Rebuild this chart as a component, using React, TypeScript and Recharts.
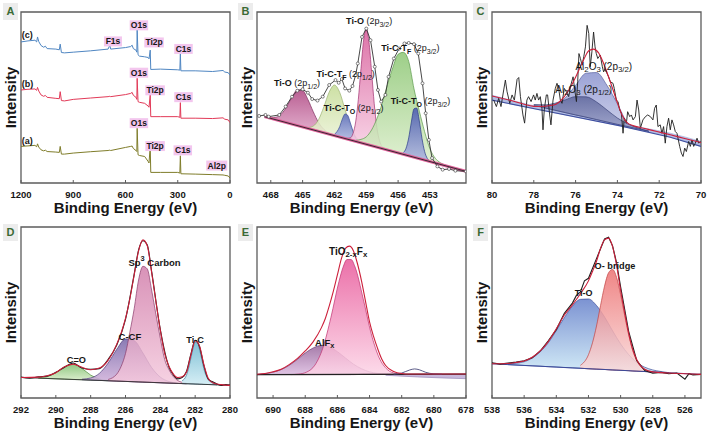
import React from "react";
import { ComposedChart, Area, Line, XAxis, YAxis, ReferenceArea, ReferenceDot } from "recharts";

const FONT = "'Liberation Sans', Arial, Helvetica, sans-serif";
const INK = "#161616";
const FRAME = "#5c5c5c";
const FIT = "#cc1f3a";

type Pt = [number, number];
type Tri = [number, number, number]; // [binding energy, background, peak top]

// ---------- A: survey spectra ----------
const surveyBE = [1200, 1160, 1120, 1110, 1105, 1098, 1085, 1070, 1060, 1050, 1000, 980, 975, 968, 950, 900, 800, 700, 690, 685, 600, 570, 562, 555, 540, 535, 533, 528, 520, 490, 470, 465, 458, 455, 400, 300, 288, 285, 282, 200, 100, 40, 30, 10, 0];
const surveyC = [82.5, 83.1, 83.5, 82.5, 85.4, 82.7, 80.4, 79.4, 80.0, 78.6, 78.3, 77.9, 81.2, 76.3, 76.1, 76.5, 77.3, 78.3, 80.6, 78.3, 79.2, 79.8, 80.6, 78.6, 77.7, 76.5, 89.7, 75.0, 74.2, 73.8, 73.4, 72.6, 77.7, 66.4, 66.6, 66.2, 66.0, 75.7, 65.6, 65.6, 65.2, 65.8, 64.9, 64.5, 63.1];
const surveyB = [54.4, 54.8, 55.0, 54.2, 55.9, 53.8, 51.5, 50.7, 51.2, 50.1, 49.5, 49.3, 53.4, 48.2, 48.0, 48.9, 49.7, 50.5, 50.7, 50.5, 51.7, 52.4, 53.0, 51.3, 50.1, 48.9, 61.2, 47.6, 47.2, 46.6, 45.0, 44.3, 51.5, 38.8, 38.8, 38.8, 38.4, 47.0, 37.9, 37.9, 37.7, 38.1, 37.3, 36.9, 35.3];
const surveyA = [21.4, 21.7, 22.0, 21.2, 22.9, 21.0, 19.4, 18.8, 19.2, 18.4, 18.1, 17.9, 21.4, 16.9, 16.9, 17.5, 18.3, 19.0, 19.2, 19.0, 20.8, 21.4, 21.6, 20.2, 19.0, 18.4, 32.0, 16.5, 16.1, 15.5, 12.6, 11.7, 21.4, 6.2, 6.2, 6.2, 5.8, 15.9, 5.4, 5.2, 4.9, 4.7, 4.5, 4.1, 2.9];
const surveyTicks = [1200, 900, 600, 300, 0];

// ---------- B: Ti 2p ----------
const tiTicks = [468, 465, 462, 459, 456, 453];
const tiO12: Tri[] = [[468.0, 37.8, 38.2], [467.5, 37.0, 38.5], [467.0, 36.1, 40.4], [466.5, 35.3, 44.6], [466.0, 34.4, 50.2], [465.5, 33.6, 54.4], [465.0, 32.8, 54.1], [464.5, 31.9, 48.8], [464.0, 31.1, 41.7], [463.5, 30.2, 35.4], [463.0, 29.4, 31.4], [462.5, 28.5, 29.1], [462.0, 27.7, 27.8]];
const tiTF12: Tri[] = [[464.5, 31.9, 32.4], [464.0, 31.1, 33.3], [463.5, 30.2, 37.0], [463.0, 29.4, 44.5], [462.5, 28.5, 53.1], [462.0, 27.7, 57.3], [461.5, 26.9, 52.9], [461.0, 26.0, 42.9], [460.5, 25.2, 33.2], [460.0, 24.3, 27.1], [459.5, 23.5, 24.2], [459.0, 22.6, 22.6]];
const tiTO12: Tri[] = [[462.0, 27.7, 28.4], [461.5, 26.9, 33.0], [461.25, 26.5, 37.5], [461.0, 26.0, 40.4], [460.75, 25.6, 39.6], [460.5, 25.2, 35.1], [460.0, 24.3, 26.3], [459.5, 23.5, 23.6]];
const tiO32: Tri[] = [[461.0, 26.0, 26.0], [460.5, 25.2, 26.4], [460.25, 24.8, 29.0], [460.0, 24.3, 35.7], [459.75, 23.9, 48.8], [459.5, 23.5, 66.9], [459.25, 23.0, 83.6], [459.0, 22.6, 90.3], [458.75, 22.2, 82.8], [458.5, 21.8, 65.2], [458.25, 21.4, 46.3], [458.0, 21.0, 32.4], [457.75, 20.5, 24.7], [457.5, 20.1, 21.3], [457.0, 19.3, 19.3]];
const tiTF32: Tri[] = [[460.0, 24.3, 25.0], [459.5, 23.5, 25.5], [459.0, 22.6, 27.0], [458.5, 21.8, 31.0], [458.0, 21.0, 37.6], [457.5, 20.1, 46.6], [457.0, 19.3, 57.6], [456.5, 18.4, 67.4], [456.0, 17.6, 75.3], [455.5, 16.7, 76.4], [455.0, 15.9, 71.1], [454.5, 15.1, 55.0], [454.0, 14.2, 42.0], [453.5, 13.4, 30.0], [453.0, 12.5, 20.0], [452.5, 11.7, 14.5], [452.0, 10.8, 11.8], [451.5, 10.0, 10.3], [451.0, 9.2, 9.2]];
const tiTO32: Tri[] = [[455.5, 16.7, 17.8], [455.25, 16.3, 20.3], [455.0, 15.9, 26.4], [454.75, 15.5, 35.7], [454.5, 15.1, 43.4], [454.25, 14.6, 43.8], [454.0, 14.2, 36.3], [453.75, 13.8, 26.1], [453.5, 13.4, 18.4], [453.25, 12.9, 14.4], [453.0, 12.5, 12.8]];
const tiBackground: Pt[] = [[468.6, 38.8], [449.6, 6.8]];
const tiData: Pt[] = [[469.1, 39.2], [468.5, 39.8], [468.2, 38.8], [467.2, 39.8], [466.6, 44.7], [466.0, 50.5], [465.5, 54.0], [465.0, 54.8], [464.5, 52.8], [464.1, 49.1], [463.6, 48.2], [463.1, 50.5], [462.5, 57.3], [461.9, 60.2], [461.6, 58.6], [461.3, 60.8], [461.0, 55.3], [460.6, 54.0], [460.3, 56.7], [460.0, 63.1], [459.8, 69.9], [459.4, 85.4], [459.0, 90.3], [458.6, 83.5], [458.2, 68.0], [457.9, 54.4], [457.6, 47.6], [457.2, 51.5], [456.9, 62.1], [456.4, 72.8], [455.9, 78.6], [455.4, 81.6], [455.0, 81.9], [454.5, 81.2], [454.1, 75.7], [453.7, 58.3], [453.4, 40.8], [453.1, 25.2], [452.8, 14.6], [452.3, 9.7], [451.8, 7.8], [451.2, 8.2], [450.6, 7.2], [449.6, 6.8]];

// ---------- C: Al 2p ----------
const alTicks = [80, 78, 76, 74, 72, 70];
const alBand: Tri[] = [[80.0, 48.5, 51.3], [77.85, 43.1, 44.7], [73.86, 33.4, 34.6], [71.47, 26.8, 29.1], [70.0, 21.4, 24.3]];
const al32: Tri[] = [[77.5, 44.0, 44.8], [77.0, 42.6, 45.6], [76.5, 41.2, 49.7], [76.0, 39.8, 57.1], [75.5, 38.5, 64.2], [75.0, 37.1, 64.6], [74.5, 35.7, 57.1], [74.0, 34.3, 46.3], [73.5, 33.0, 35.0], [73.0, 31.6, 32.0], [72.5, 30.2, 30.5]];
const al12: Tri[] = [[78.0, 45.4, 45.9], [77.5, 44.0, 45.7], [77.0, 42.6, 46.6], [76.5, 41.2, 48.6], [76.0, 39.8, 50.5], [75.5, 38.5, 50.4], [75.0, 37.1, 47.4], [74.5, 35.7, 42.7], [74.0, 34.3, 38.0], [73.5, 33.0, 34.5], [73.0, 31.6, 32.1], [72.5, 30.2, 30.2]];
const alLower: Pt[] = [[80.0, 48.5], [77.85, 43.1], [73.86, 33.4], [71.47, 26.8], [70.0, 21.4]];
const alFit: Pt[] = [[80.0, 50.9], [79.0, 48.0], [77.85, 44.7], [77.05, 45.6], [76.57, 50.1], [76.25, 55.9], [75.93, 63.7], [75.61, 72.2], [75.37, 77.3], [75.14, 78.3], [74.9, 76.1], [74.66, 69.9], [74.34, 59.2], [74.02, 47.6], [73.78, 39.8], [73.54, 35.3], [73.22, 33.4], [72.74, 32.0], [72.11, 30.1], [71.47, 28.2], [70.83, 26.2], [70.0, 23.7]];
const alData: Pt[] = [[79.92, 48.5], [79.79, 44.7], [79.68, 49.5], [79.57, 44.7], [79.44, 54.4], [79.36, 60.2], [79.28, 53.4], [79.15, 46.6], [79.04, 51.5], [78.93, 48.5], [78.8, 60.6], [78.72, 61.7], [78.64, 50.5], [78.52, 39.8], [78.44, 35.0], [78.33, 48.5], [78.25, 50.5], [78.13, 47.6], [78.01, 51.5], [77.93, 48.5], [77.85, 52.4], [77.77, 48.5], [77.69, 50.5], [77.61, 43.7], [77.56, 31.1], [77.5, 42.7], [77.4, 51.5], [77.34, 51.5], [77.24, 39.8], [77.18, 34.0], [77.08, 48.5], [76.97, 55.3], [76.89, 58.3], [76.81, 55.3], [76.73, 48.5], [76.65, 46.6], [76.54, 55.3], [76.44, 53.4], [76.33, 50.5], [76.25, 56.3], [76.12, 62.1], [76.04, 54.4], [75.96, 47.6], [75.9, 59.2], [75.84, 75.7], [75.77, 72.8], [75.69, 68.9], [75.61, 73.8], [75.53, 79.6], [75.45, 92.2], [75.37, 87.4], [75.3, 68.0], [75.22, 76.7], [75.14, 88.3], [75.07, 79.6], [75.01, 75.7], [74.94, 72.8], [74.82, 74.8], [74.72, 68.0], [74.66, 65.0], [74.58, 67.0], [74.5, 64.1], [74.42, 62.1], [74.34, 59.2], [74.21, 58.3], [74.15, 55.3], [74.05, 48.5], [73.97, 47.6], [73.89, 42.7], [73.81, 40.8], [73.73, 29.1], [73.67, 37.9], [73.57, 35.0], [73.51, 41.7], [73.41, 38.8], [73.33, 39.8], [73.25, 36.9], [73.14, 38.8], [73.06, 48.5], [72.98, 42.7], [72.9, 32.0], [72.78, 36.9], [72.66, 38.8], [72.55, 39.8], [72.42, 38.8], [72.3, 36.9], [72.22, 43.7], [72.14, 45.6], [72.06, 33.0], [71.95, 34.0], [71.87, 29.1], [71.79, 33.0], [71.71, 23.3], [71.63, 33.0], [71.55, 37.9], [71.47, 31.1], [71.39, 36.9], [71.31, 34.0], [71.23, 30.1], [71.15, 29.1], [71.02, 21.4], [70.94, 17.5], [70.86, 15.5], [70.78, 20.4], [70.7, 18.4], [70.59, 24.3], [70.51, 21.4], [70.43, 25.2], [70.35, 21.4], [70.27, 23.3], [70.19, 26.2], [70.11, 23.3], [70.03, 24.3]];

// ---------- D: C 1s ----------
const cTicks = [292, 290, 288, 286, 284, 282, 280];
const cCO: Tri[] = [[291.0, 11.6, 11.8], [290.5, 11.4, 12.5], [290.0, 11.2, 14.8], [289.5, 11.0, 18.3], [289.0, 10.8, 19.8], [288.5, 10.7, 17.3], [288.0, 10.5, 13.4], [287.5, 10.3, 11.1], [287.0, 10.1, 10.2]];
const cCCF: Tri[] = [[288.5, 10.7, 11.0], [288.0, 10.5, 11.7], [287.5, 10.3, 14.4], [287.0, 10.1, 20.4], [286.5, 9.9, 28.5], [286.0, 9.7, 34.5], [285.5, 9.5, 33.5], [285.0, 9.3, 26.3], [284.5, 9.1, 17.8], [284.0, 8.9, 12.2], [283.5, 8.7, 9.6], [283.0, 8.5, 8.7]];
const cSp3: Tri[] = [[287.0, 10.1, 10.8], [286.5, 9.9, 14.0], [286.25, 9.8, 18.5], [286.0, 9.7, 26.0], [285.75, 9.6, 38.5], [285.5, 9.5, 52.3], [285.25, 9.4, 69.0], [285.0, 9.3, 77.0], [284.75, 9.2, 75.5], [284.5, 9.1, 63.1], [284.25, 9.0, 48.7], [284.0, 8.9, 34.9], [283.75, 8.8, 22.5], [283.5, 8.7, 16.5], [283.25, 8.6, 12.5], [283.0, 8.5, 10.2], [282.5, 8.3, 8.7]];
const cTiC: Tri[] = [[282.75, 8.4, 10.1], [282.5, 8.3, 13.3], [282.375, 8.3, 17.5], [282.25, 8.2, 23.1], [282.125, 8.2, 28.9], [282.0, 8.1, 32.8], [281.875, 8.1, 32.6], [281.75, 8.0, 28.4], [281.625, 8.0, 22.9], [281.5, 7.9, 17.1], [281.25, 7.9, 10.9], [281.0, 7.8, 8.8], [280.75, 7.7, 7.7]];
const cBackground: Pt[] = [[292, 12.0], [280, 7.4]];
const cFit: Pt[] = [[292, 12.0], [291, 12.2], [290.5, 13.0], [290, 14.8], [289.5, 18.3], [289, 19.8], [288.5, 18.0], [288, 16.5], [287.5, 17.5], [287, 22.0], [286.5, 31.5], [286.25, 38.0], [286, 46.5], [285.75, 58.0], [285.5, 72.0], [285.25, 86.0], [285, 92.5], [284.75, 89.0], [284.5, 73.5], [284.25, 56.0], [284, 39.5], [283.75, 26.0], [283.5, 18.4], [283.25, 14.0], [283, 12.0], [282.75, 12.4], [282.5, 15.0], [282.25, 25.0], [282, 33.5], [281.75, 30.5], [281.5, 19.5], [281.25, 11.5], [281, 8.9], [280.5, 7.8], [280, 7.4]];
const cData: Pt[] = [[292, 12.2], [291.5, 11.6], [291, 12.4], [290.5, 12.8], [290, 15.0], [289.5, 18.0], [289, 20.5], [288.5, 17.5], [288, 16.8], [287.5, 17.2], [287, 22.5], [286.5, 31.0], [286, 46.0], [285.5, 72.5], [285.25, 86.5], [285, 92.0], [284.75, 89.5], [284.5, 74.0], [284, 40.0], [283.5, 18.0], [283.25, 13.5], [283, 11.2], [282.75, 12.0], [282.5, 15.5], [282.25, 25.5], [282, 33.8], [281.75, 30.0], [281.5, 19.0], [281.25, 11.0], [281, 9.5], [280.75, 8.2], [280.5, 7.3], [280.25, 7.9], [280, 7.5]];

// ---------- E: F 1s ----------
const fTicks = [690, 688, 686, 684, 682, 680, 678];
const fBand: Tri[] = [[683.0, 13.3, 13.8], [681.0, 12.3, 13.9], [678.0, 11.3, 14.0]];
const fAlF: Tri[] = [[691.0, 13.7, 13.9], [690.5, 13.7, 14.2], [690.0, 13.7, 15.1], [689.5, 13.7, 16.6], [689.0, 13.7, 19.1], [688.5, 13.7, 22.5], [688.0, 13.7, 26.3], [687.5, 13.7, 29.3], [687.0, 13.7, 30.7], [686.5, 13.7, 29.8], [686.0, 13.7, 27.1], [685.5, 13.7, 23.4], [685.0, 13.7, 19.8], [684.5, 13.8, 17.1], [684.0, 13.8, 15.3], [683.5, 13.8, 14.4], [683.0, 13.8, 14.0], [682.5, 13.8, 13.8]];
const fTiOF: Tri[] = [[688.9, 13.7, 13.7], [688.4, 13.7, 14.0], [687.9, 13.7, 15.2], [687.4, 13.7, 19.2], [686.9, 13.7, 29.3], [686.4, 13.7, 47.2], [685.9, 13.7, 68.2], [685.65, 13.7, 76.4], [685.4, 13.7, 81.0], [685.15, 13.7, 81.0], [684.9, 13.7, 76.6], [684.4, 13.8, 58.3], [683.9, 13.8, 37.7], [683.4, 13.8, 23.5], [682.9, 13.8, 16.7], [682.4, 13.8, 14.4], [681.9, 13.8, 13.8]];
const fBackground: Pt[] = [[691, 13.7], [678, 14.0]];
const fBump: Pt[] = [[682.5, 13.9], [682.0, 14.6], [681.5, 16.4], [681.2, 17.0], [680.9, 16.5], [680.5, 15.0], [680.0, 14.1], [679.5, 13.9]];
const fFit: Pt[] = [[691, 13.9], [690.5, 14.3], [690, 15.3], [689.5, 16.8], [689, 19.5], [688.5, 23.0], [688, 27.5], [687.5, 33.0], [687, 41.0], [686.75, 46.5], [686.5, 54.0], [686.25, 62.5], [686, 72.0], [685.75, 81.5], [685.5, 87.5], [685.25, 88.8], [685, 86.0], [684.75, 78.5], [684.5, 68.5], [684.25, 56.5], [684, 44.5], [683.75, 36.0], [683.5, 29.0], [683.25, 23.0], [683, 19.0], [682.5, 15.5], [682, 14.3], [681.5, 14.0], [680, 14.0], [678, 14.0]];

// ---------- F: O 1s ----------
const oTicks = [538, 536, 534, 532, 530, 528, 526];
const oTiO: Tri[] = [[537.0, 19.5, 19.9], [536.0, 19.0, 21.2], [535.5, 18.8, 23.3], [535.0, 18.6, 27.0], [534.5, 18.3, 32.3], [534.0, 18.1, 39.4], [533.5, 17.8, 47.0], [533.0, 17.6, 53.7], [532.5, 17.4, 57.7], [532.0, 17.1, 57.9], [531.5, 16.9, 54.1], [531.0, 16.7, 47.4], [530.5, 16.4, 39.3], [530.0, 16.2, 31.6], [529.5, 16.0, 25.4], [529.0, 15.7, 20.8], [528.5, 15.5, 18.0], [528.0, 15.2, 16.4], [527.5, 15.0, 15.5], [527.0, 14.8, 14.8]];
const oBridge: Tri[] = [[532.5, 17.4, 19.1], [532.0, 17.1, 25.3], [531.75, 17.0, 32.3], [531.5, 16.9, 42.1], [531.25, 16.8, 54.0], [531.0, 16.7, 65.4], [530.75, 16.5, 73.2], [530.5, 16.4, 75.2], [530.25, 16.3, 70.5], [530.0, 16.2, 60.5], [529.75, 16.1, 48.4], [529.5, 16.0, 37.0], [529.25, 15.8, 27.9], [529.0, 15.7, 21.9], [528.75, 15.6, 18.4], [528.5, 15.5, 16.6], [528.0, 15.2, 15.2]];
const oBackground: Pt[] = [[538, 20.0], [525, 13.8]];
const oFit: Pt[] = [[538, 20.0], [537, 20.2], [536.5, 20.8], [536, 21.6], [535.5, 23.8], [535, 27.5], [534.5, 33.0], [534, 40.5], [533.5, 48.5], [533, 54.5], [532.5, 61.0], [532, 68.5], [531.75, 74.0], [531.5, 80.0], [531.25, 87.5], [531, 92.5], [530.75, 93.5], [530.5, 88.5], [530.25, 77.5], [530, 63.0], [529.75, 50.0], [529.5, 38.0], [529.25, 28.5], [529, 22.5], [528.75, 18.8], [528.5, 16.8], [528, 15.3], [527, 14.6], [526, 14.2], [525, 13.8]];
const oData: Pt[] = [[538, 20.6], [537.5, 19.8], [537, 20.4], [536.5, 21.0], [536, 21.8], [535.5, 23.5], [535, 27.5], [534.5, 33.5], [534, 40.0], [533.5, 49.5], [533, 55.5], [532.75, 60.0], [532.5, 62.0], [532.25, 68.5], [532, 70.0], [531.5, 81.5], [531, 93.0], [530.75, 94.0], [530.5, 89.0], [530.25, 79.0], [530, 65.0], [529.5, 39.0], [529, 22.0], [528.5, 16.0], [528, 14.5], [527.5, 15.0], [527, 14.2], [526.5, 14.6], [526, 11.0], [525.75, 14.2], [525.5, 13.5], [525, 13.8]];

type Seg = { t: string; s?: "sub" | "sup"; n?: boolean };
type Tag = { x: number; y: number; segs: Seg[]; size: number; box?: number };
type Peak = { id: string; pts: Tri[]; c0: string; c1: string; line: string; op?: number };
type Trace = { pts: Pt[]; color: string; w: number; dots?: boolean; curve?: "linear" | "monotone" };

const rng = (p: Tri[]) => p.map(([x, lo, hi]) => ({ x, y: [lo, hi] }));
const pts = (p: Pt[]) => p.map(([x, y]) => ({ x, y }));
const zip = (ys: number[]): Pt[] => surveyBE.map((x, i) => [x, ys[i]]);

const txt = (t: string): Seg[] => [{ t }];
const orbital = (main: Seg[], j: string): Seg[] => [...main, { t: " (2p", n: true }, { t: j, s: "sub", n: true }, { t: ")", n: true }];

function spans(segs: Seg[], size: number) {
  let prev = 0;
  return segs.map((g, i) => {
    const shift = g.s === "sub" ? size * 0.3 : g.s === "sup" ? -size * 0.4 : 0;
    const dy = shift - prev;
    prev = shift;
    return (
      <tspan key={i} dy={dy} fontSize={g.s ? size * 0.78 : size} fontWeight={g.n ? 400 : 700}>
        {g.t}
      </tspan>
    );
  });
}

const tagShape = (tag: Tag) => (p: any) => (
  <g>
    {tag.box ? <rect x={p.cx - tag.box / 2} y={p.cy - 5} width={tag.box} height={10} fill="#f3c6ee" /> : null}
    <text
      x={p.cx}
      y={p.cy}
      dominantBaseline="central"
      textAnchor={tag.box ? "middle" : "start"}
      fontFamily={FONT}
      fill={INK}
      style={{ whiteSpace: "pre" }}
    >
      {spans(tag.segs, tag.size)}
    </text>
  </g>
);

interface PanelProps {
  left: number;
  top: number;
  low?: boolean;
  domain: [number, number];
  ticks: number[];
  peaks: Peak[];
  traces: Trace[];
  tags: Tag[];
}

const Panel: React.FC<PanelProps> = ({ left, top, low, domain, ticks, peaks, traces, tags }) => {
  const axisText = { fontSize: 15, fontWeight: 700, fill: INK, fontFamily: FONT };
  return (
    <div style={{ position: "absolute", left, top }}>
      <ComposedChart width={235} height={low ? 218 : 215} margin={{ top: 12, right: 5, bottom: 0, left: 0 }}>
        <defs>
          {peaks.map((pk) => (
            <linearGradient key={pk.id} id={pk.id} x1="0" y1="0" x2="0" y2="1">
              <stop offset="0%" stopColor={pk.c0} stopOpacity={pk.op ?? 0.88} />
              <stop offset="100%" stopColor={pk.c1} stopOpacity={pk.op ?? 0.88} />
            </linearGradient>
          ))}
        </defs>
        <XAxis
          type="number"
          dataKey="x"
          domain={domain}
          reversed
          allowDataOverflow
          ticks={ticks}
          interval={0}
          height={low ? 35 : 32}
          axisLine={false}
          tickLine={{ stroke: FRAME }}
          tickSize={-3}
          tickMargin={11}
          tick={{ fontSize: 9.5, fontWeight: 700, fill: INK, fontFamily: FONT }}
          label={{ value: "Binding Energy (eV)", position: "insideBottom", offset: low ? 5 : 2, ...axisText }}
        />
        <YAxis
          type="number"
          domain={[0, 100]}
          allowDataOverflow
          width={21}
          tick={false}
          tickLine={false}
          axisLine={false}
          label={{ value: "Intensity", angle: -90, position: "center", ...axisText }}
        />
        {peaks.map((pk) => (
          <Area
            key={pk.id}
            name={pk.id}
            data={rng(pk.pts)}
            dataKey="y"
            type="monotone"
            fill={`url(#${pk.id})`}
            fillOpacity={1}
            stroke={pk.line}
            strokeWidth={0.7}
            dot={false}
            activeDot={false}
            isAnimationActive={false}
          />
        ))}
        {traces.map((tr, i) => (
          <Line
            key={i}
            name={`trace${i}`}
            data={pts(tr.pts)}
            dataKey="y"
            type={tr.curve ?? "linear"}
            stroke={tr.color}
            strokeWidth={tr.w}
            dot={tr.dots ? { r: 1.5, fill: "#fff", stroke: "#333", strokeWidth: 0.6 } : false}
            activeDot={false}
            isAnimationActive={false}
          />
        ))}
        <ReferenceArea x1={domain[0]} x2={domain[1]} y1={0} y2={100} fill="none" stroke={FRAME} strokeWidth={1.3} ifOverflow="visible" />
        {tags.map((t, i) => (
          <ReferenceDot key={i} x={t.x} y={t.y} r={0} ifOverflow="visible" shape={tagShape(t)} />
        ))}
      </ComposedChart>
    </div>
  );
};

const letters: [string, number, number][] = [
  ["A", 3, 3],
  ["B", 238, 3],
  ["C", 473, 3],
  ["D", 3, 224],
  ["E", 238, 224],
  ["F", 473, 224],
];

export default function App() {
  const box = (t: string, x: number, y: number, w: number): Tag => ({ x, y, segs: txt(t), size: 8.5, box: w });
  const TiCTF: Seg[] = [{ t: "Ti-C-T" }, { t: "F", s: "sub" }];
  const TiCTO: Seg[] = [{ t: "Ti-C-T" }, { t: "O", s: "sub" }];
  const Al2O3: Seg[] = [{ t: "Al", n: true }, { t: "2", s: "sub", n: true }, { t: "O", n: true }, { t: "3", s: "sub", n: true }];

  return (
    <div style={{ position: "absolute", left: 0, top: 0, width: 709, height: 433, background: "#fff", overflow: "hidden", fontFamily: FONT }}>
      <style>{`.recharts-surface{overflow:visible}`}</style>

      <Panel
        left={0}
        top={0}
        domain={[0, 1200]}
        ticks={surveyTicks}
        peaks={[]}
        traces={[
          { pts: zip(surveyC), color: "#4f86c2", w: 1 },
          { pts: zip(surveyB), color: "#e23a58", w: 1 },
          { pts: zip(surveyA), color: "#7f7d2a", w: 1 },
        ]}
        tags={[
          { x: 1195, y: 86.4, segs: txt("(c)"), size: 9 },
          { x: 1195, y: 58.0, segs: txt("(b)"), size: 9 },
          { x: 1195, y: 24.8, segs: txt("(a)"), size: 9 },
          box("F1s", 672, 82.8, 18),
          box("O1s", 523, 92.2, 18.5),
          box("Ti2p", 436, 82.2, 19.5),
          box("C1s", 267, 78.4, 18.5),
          box("O1s", 523, 64.5, 18.5),
          box("Ti2p", 430, 54.2, 19.5),
          box("C1s", 267, 50.2, 18.5),
          box("O1s", 523, 35.0, 18.5),
          box("Ti2p", 430, 21.6, 19.5),
          box("C1s", 271, 19.1, 18.5),
          box("Al2p", 76, 10.2, 21),
        ]}
      />

      <Panel
        left={236}
        top={0}
        domain={[449.6, 469.3]}
        ticks={tiTicks}
        peaks={[
          { id: "bTiO12", pts: tiO12, c0: "#b04a84", c1: "#e2aacb", line: "#7a2a5a" },
          { id: "bTF12", pts: tiTF12, c0: "#c6dc98", c1: "#eef4dc", line: "#9ab070" },
          { id: "bTO12", pts: tiTO12, c0: "#5c6cbc", c1: "#b8c0e8", line: "#3a4a9a" },
          { id: "bTiO32", pts: tiO32, c0: "#d8609c", c1: "#f8d0e4", line: "#a03070" },
          { id: "bTF32", pts: tiTF32, c0: "#90c878", c1: "#e0f0d0", line: "#5a9a4a" },
          { id: "bTO32", pts: tiTO32, c0: "#4a5ab0", c1: "#b0b8e0", line: "#2a3a8a" },
        ]}
        traces={[
          { pts: tiBackground, color: "#e0609a", w: 3 },
          { pts: tiBackground, color: "#222", w: 0.9 },
          { pts: tiData, color: "#333", w: 0.9, dots: true },
        ]}
        tags={[
          { x: 460.9, y: 94.6, segs: orbital(txt("Ti-O"), "3/2"), size: 9 },
          { x: 457.6, y: 78.8, segs: orbital(TiCTF, "3/2"), size: 9 },
          { x: 467.7, y: 58.4, segs: orbital(txt("Ti-O"), "1/2"), size: 9 },
          { x: 463.7, y: 63.7, segs: orbital(TiCTF, "1/2"), size: 9 },
          { x: 463.0, y: 43.9, segs: orbital(TiCTO, "1/2"), size: 9 },
          { x: 456.7, y: 47.9, segs: orbital(TiCTO, "3/2"), size: 9 },
        ]}
      />

      <Panel
        left={471}
        top={0}
        domain={[70, 80]}
        ticks={alTicks}
        peaks={[
          { id: "cBand", pts: alBand, c0: "#a8b4e0", c1: "#a8b4e0", line: "#a8b4e0" },
          { id: "c32", pts: al32, c0: "#8e96d0", c1: "#c8cce8", line: "#5a62a0" },
          { id: "c12", pts: al12, c0: "#5a6298", c1: "#9aa0c8", line: "#3a4278", op: 0.8 },
        ]}
        traces={[
          { pts: alLower, color: "#3f4f9f", w: 1.1 },
          { pts: alData, color: "#1e1e1e", w: 0.9 },
          { pts: alFit, color: FIT, w: 1.1, curve: "monotone" },
        ]}
        tags={[
          { x: 76.01, y: 68.4, segs: orbital(Al2O3, "3/2"), size: 10 },
          { x: 76.97, y: 55.0, segs: orbital(Al2O3, "1/2"), size: 10 },
        ]}
      />

      <Panel
        left={0}
        top={215}
        low
        domain={[280, 292]}
        ticks={cTicks}
        peaks={[
          { id: "dCO", pts: cCO, c0: "#80c070", c1: "#d8ecc8", line: "#4a8a3a" },
          { id: "dCCF", pts: cCCF, c0: "#7a6aaa", c1: "#d4b4dc", line: "#4a3a7a" },
          { id: "dSp3", pts: cSp3, c0: "#d07aa8", c1: "#f4c8dc", line: "#8a3a6a", op: 0.82 },
          { id: "dTiC", pts: cTiC, c0: "#70b8d0", c1: "#d0ecf4", line: "#3a7a9a" },
        ]}
        traces={[
          { pts: cBackground, color: "#333", w: 0.9 },
          { pts: cData, color: "#1e1e1e", w: 1.1, curve: "monotone" },
          { pts: cFit, color: FIT, w: 1.1, curve: "monotone" },
        ]}
        tags={[
          { x: 285.83, y: 79.4, segs: [{ t: "Sp" }, { t: "3", s: "sup" }, { t: " Carbon" }], size: 9.5 },
          { x: 286.4, y: 36.3, segs: txt("C-CF"), size: 9.5 },
          { x: 289.37, y: 22.3, segs: txt("C=O"), size: 9.2 },
          { x: 282.51, y: 34.0, segs: txt("Ti-C"), size: 9.2 },
        ]}
      />

      <Panel
        left={236}
        top={215}
        low
        domain={[678, 691]}
        ticks={fTicks}
        peaks={[
          { id: "eBand", pts: fBand, c0: "#c0b0d8", c1: "#c0b0d8", line: "#9a8ab8" },
          { id: "eAlF", pts: fAlF, c0: "#9a6a9e", c1: "#dcbce0", line: "#6a3a6e" },
          { id: "eTiOF", pts: fTiOF, c0: "#e8589a", c1: "#fcd4e6", line: "#c03070", op: 0.85 },
        ]}
        traces={[
          { pts: fBackground, color: "#222", w: 1.3 },
          { pts: fBump, color: "#4a4a7a", w: 0.9, curve: "monotone" },
          { pts: fFit, color: FIT, w: 1.1, curve: "monotone" },
        ]}
        tags={[
          { x: 686.52, y: 85.8, segs: [{ t: "TiO" }, { t: "2-x", s: "sub" }, { t: "F" }, { t: "x", s: "sub" }], size: 10 },
          { x: 687.39, y: 32.8, segs: [{ t: "AlF" }, { t: "x", s: "sub" }], size: 9.5 },
        ]}
      />

      <Panel
        left={471}
        top={215}
        low
        domain={[525, 538]}
        ticks={oTicks}
        peaks={[
          { id: "fTiO", pts: oTiO, c0: "#6a84cc", c1: "#cce8f6", line: "#3a4a9a" },
          { id: "fOB", pts: oBridge, c0: "#ec7070", c1: "#fadada", line: "#c04040", op: 0.85 },
        ]}
        traces={[
          { pts: oBackground, color: "#3a4a9a", w: 1 },
          { pts: oData, color: "#1e1e1e", w: 1.1 },
          { pts: oFit, color: FIT, w: 1.1, curve: "monotone" },
        ]}
        tags={[
          { x: 531.62, y: 77.1, segs: txt("O- bridge"), size: 9.2 },
          { x: 532.86, y: 61.4, segs: txt("Ti-O"), size: 9 },
        ]}
      />

      {letters.map(([l, x, y]) => (
        <div
          key={l}
          style={{
            position: "absolute",
            left: x,
            top: y,
            width: 15,
            height: 17,
            background: "#ececec",
            color: "#3a6a35",
            fontSize: 11,
            fontWeight: 700,
            lineHeight: "17px",
            textAlign: "center",
            fontFamily: FONT,
          }}
        >
          {l}
        </div>
      ))}
    </div>
  );
}
